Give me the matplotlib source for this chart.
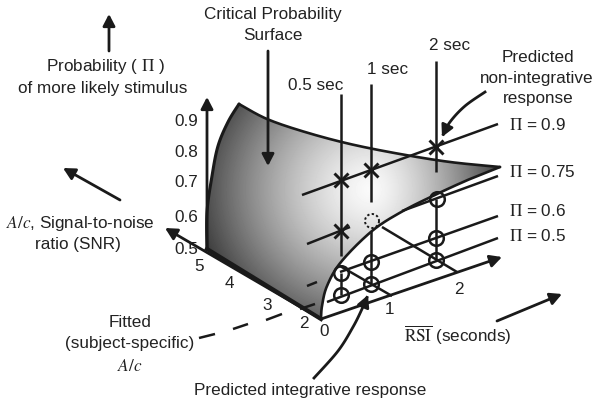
import numpy as np
import matplotlib
matplotlib.use("Agg")
import matplotlib.pyplot as plt
from matplotlib.path import Path
from matplotlib.patches import PathPatch

plt.rcParams['font.family'] = ['Liberation Sans', 'DejaVu Sans']
plt.rcParams['mathtext.fontset'] = 'stix'

# --- diagram geometry (pixel positions) ---
top_edge = [(239, 105), (267, 120), (305, 133), (350, 145), (400, 155), (450, 163), (500, 168)]
low_edge = [(500, 168), (470, 180), (437, 195), (403, 212), (372, 232), (341, 263), (327, 287), (322, 307), (321, 320)]
left_edge = [(207, 250), (207, 213), (212, 177), (218, 147), (228, 123), (239, 105)]
bottom_edge = [(321, 320), (207, 250)]

pi_labels = ["$\\Pi$ = 0.9", "$\\Pi$ = 0.75", "$\\Pi$ = 0.6", "$\\Pi$ = 0.5"]
pi_label_y = [125, 172, 211, 236]
pi_lines = [[(302, 196), (498, 125)],
            [(307, 245), (350, 228)],
            [(402, 212), (498, 177)],
            [(340, 273), (498, 217)],
            [(327, 303), (498, 239)]]
rsi_verticals = [[(341, 95), (341, 257)], [(341, 274), (341, 296)],
                 [(371, 85), (371, 203)], [(371, 232), (371, 284)],
                 [(436, 62), (436, 173)], [(436, 200), (436, 260)]]
floor_lines = [[(340, 267), (392, 297)], [(382, 228), (457, 273)]]
dashes = [[(199, 339), (215, 335)], [(233, 330), (248, 325)], [(266, 321), (282, 315)],
          [(300, 310), (315, 305)], [(307, 287), (317, 283)]]
x_marks = [(341, 181), (371, 171), (436, 148), (341, 232)]
o_marks = [(437, 200), (341, 274), (371, 263), (436, 239), (341, 296), (371, 285), (436, 261)]
dotted_mark = (372, 222)

straight_arrows = [[(207, 250), (207, 98)], [(321, 320), (165, 229)], [(321, 320), (502, 258)],
                   [(109, 52), (109, 15)], [(268, 52), (268, 167)], [(120, 201), (63, 169)],
                   [(497, 322), (562, 295)]]
curve_arrow_a = [(314, 379), (338, 352), (353, 328), (362, 310), (368, 296)]
curve_arrow_b = [(485, 93), (465, 107), (450, 123), (442, 138)]

y_ticks = ["0.5", "0.6", "0.7", "0.8", "0.9"]
y_tick_pos = [(186, 250), (186, 218), (186, 183), (186, 153), (186, 122)]
snr_ticks = ["5", "4", "3", "2"]
snr_tick_pos = [(199, 267), (229, 284), (267, 306), (304, 324)]
rsi_ticks = ["0", "1", "2"]
rsi_tick_pos = [(324, 332), (390, 310), (459, 290)]

labels = [("Critical Probability", 273, 14), ("Surface", 273, 35),
          ("Probability ( $\\Pi$ )", 105, 67), ("of more likely stimulus", 103, 88),
          ("0.5 sec", 316, 85), ("1 sec", 388, 70), ("2 sec", 450, 46),
          ("Predicted", 538, 57), ("non-integrative", 537, 78), ("response", 538, 99),
          ("$A/c$, Signal-to-noise", 80, 224), ("ratio (SNR)", 78, 245),
          ("Fitted", 130, 323), ("(subject-specific)", 130, 344), ("$A/c$", 130, 366),
          ("Predicted integrative response", 310, 391),
          ("$\\overline{\\mathrm{RSI}}$ (seconds)", 458, 335)]


def smooth(pts, n=24):
    p = np.array([pts[0]] + list(pts) + [pts[-1]], float)
    out = []
    for i in range(1, len(p) - 2):
        for t in np.linspace(0, 1, n, endpoint=False):
            out.append(0.5 * ((2 * p[i]) + (-p[i - 1] + p[i + 1]) * t
                              + (2 * p[i - 1] - 5 * p[i] + 4 * p[i + 1] - p[i + 2]) * t ** 2
                              + (-p[i - 1] + 3 * p[i] - 3 * p[i + 1] + p[i + 2]) * t ** 3))
    out.append(p[-2])
    return np.array(out)


fig = plt.figure(figsize=(6, 4.1), dpi=100)
ax = fig.add_axes([0, 0, 1, 1])
ax.set_xlim(0, 600)
ax.set_ylim(410, 0)
ax.axis('off')

# shaded surface
top = smooth(top_edge)
low = smooth(low_edge)
left = smooth(left_edge)
outline = np.vstack([top, low[1:], [bottom_edge[1]], left[1:]])
clip = PathPatch(Path(outline), transform=ax.transData, fc='none', ec='none')
ax.add_patch(clip)
xx, yy = np.meshgrid(np.arange(200, 505), np.arange(100, 325))
ax_l, ax_r, ax_v = 165.0, 125.0, 150.0
dx = xx - 370.0
dy = yy - 190.0
d = np.sqrt((dx / np.where(dx < 0, ax_l, ax_r)) ** 2 + (dy / ax_v) ** 2)
shade = np.clip(0.98 - 0.68 * np.clip(d, 0, 1.1) ** 1.4, 0, 1)
im = ax.imshow(shade, extent=(200, 505, 325, 100), cmap='gray', vmin=0, vmax=1,
               interpolation='bilinear', aspect='auto', zorder=1)
im.set_clip_path(clip)
ax.set_xlim(0, 600)
ax.set_ylim(410, 0)

ink = '#1a1a1a'
for edge, w in ((top, 1.9), (low, 1.9), (left, 2.2)):
    ax.plot(edge[:, 0], edge[:, 1], color=ink, lw=w, zorder=2, solid_capstyle='round')
ax.plot(*zip(*bottom_edge), color=ink, lw=3.0, zorder=2)

for seg in pi_lines + rsi_verticals + floor_lines:
    ax.plot(*zip(*seg), color=ink, lw=1.8, zorder=3, solid_capstyle='butt')
for seg in dashes:
    ax.plot(*zip(*seg), color=ink, lw=1.8, zorder=3, solid_capstyle='butt')

ax.plot(*zip(*x_marks), ls='none', marker='x', ms=10, mew=2.1, color=ink, zorder=4)
ax.plot(*zip(*o_marks), ls='none', marker='o', ms=10.5, mew=1.8, mfc='none', mec=ink, zorder=4)
th = np.linspace(0, 2 * np.pi, 60)
ax.plot(dotted_mark[0] + 7 * np.cos(th), dotted_mark[1] + 7 * np.sin(th),
        color=ink, lw=1.4, ls=(0, (1.2, 1.2)), zorder=4)

arrow_style = dict(arrowstyle='-|>,head_length=0.5,head_width=0.26', color=ink, lw=2.0,
                   shrinkA=0, shrinkB=0, mutation_scale=14)
for a, b in straight_arrows:
    ax.annotate('', xy=b, xytext=a, arrowprops=arrow_style, zorder=5)
for curve in (curve_arrow_a, curve_arrow_b):
    c = smooth(curve)
    ax.plot(c[:-6, 0], c[:-6, 1], color=ink, lw=2.0, zorder=5)
    ax.annotate('', xy=tuple(c[-1]), xytext=tuple(c[-12]), arrowprops=arrow_style, zorder=5)

FS = 12.3
txt = dict(ha='center', va='center', fontsize=FS, color='#222222', zorder=6)
for s, x, y in labels:
    ax.text(x, y, s, **txt)
for s, y in zip(pi_labels, pi_label_y):
    ax.text(509, y, s, ha='left', va='center', fontsize=FS, color='#222222', zorder=6)
for names, pos in ((y_ticks, y_tick_pos), (snr_ticks, snr_tick_pos), (rsi_ticks, rsi_tick_pos)):
    for s, (x, y) in zip(names, pos):
        ax.text(x, y, s, **txt)

fig.savefig('out.png', dpi=100)
